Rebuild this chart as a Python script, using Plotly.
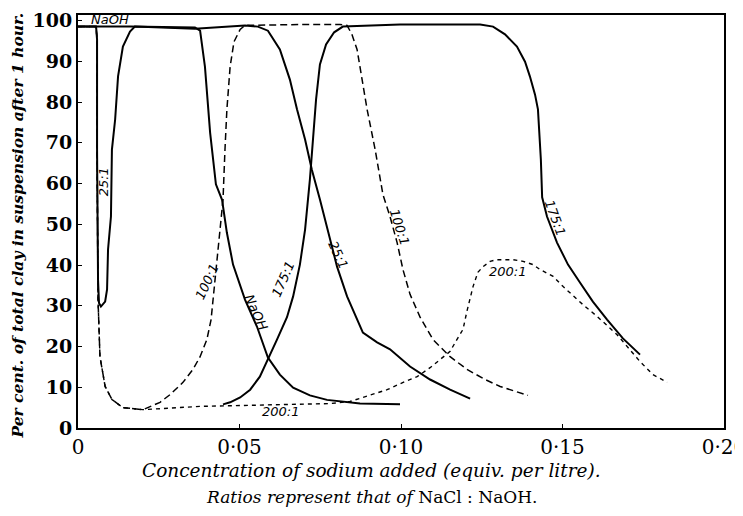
import plotly.graph_objects as go

# ---------------- data (concentration of sodium, equiv./litre ; % clay in suspension) ----------
naoh_x = [0, 0.0161, 0.0362, 0.0378, 0.0393, 0.0409, 0.0427, 0.0446, 0.0461, 0.0480, 0.0517,
          0.0554, 0.0588, 0.0625, 0.0666, 0.0718, 0.0771, 0.0873, 0.0997]
naoh_y = [98.5, 98.5, 98.3, 97.5, 88.7, 72.5, 59.8, 56.0, 47.9, 40.1, 31.5,
          24.9, 17.3, 13.1, 9.9, 8.0, 6.9, 6.0, 5.8]

r25_x = [0, 0.0056, 0.0059, 0.0059, 0.0062, 0.0065, 0.0071, 0.0084, 0.0090, 0.0093, 0.0102,
         0.0105, 0.0115, 0.0124, 0.0139, 0.0161, 0.0176, 0.0362, 0.0517, 0.0557, 0.0588,
         0.0625, 0.0656, 0.0678, 0.0703, 0.0724, 0.0749, 0.0780, 0.0802, 0.0833, 0.0882,
         0.0926, 0.0966, 0.1028, 0.1090, 0.1152, 0.1214]
r25_y = [98.5, 98.5, 95.3, 68.3, 36.4, 30.7, 29.8, 31.0, 34.0, 43.8, 51.9,
         68.3, 75.7, 86.3, 93.6, 97.3, 98.5, 98.0, 98.8, 98.5, 97.5,
         92.9, 85.5, 78.2, 70.8, 63.4, 56.1, 46.3, 39.6, 32.3, 23.4,
         21.0, 19.3, 15.1, 11.9, 9.4, 7.2]

r100_x = [0, 0.0056, 0.0059, 0.0059, 0.0062, 0.0068, 0.0084, 0.0105, 0.0139, 0.0201, 0.0254,
          0.0285, 0.0325, 0.0356, 0.0378, 0.0399, 0.0412, 0.0418, 0.0430, 0.0440, 0.0449,
          0.0455, 0.0461, 0.0471, 0.0483, 0.0502, 0.0517, 0.0687, 0.0811, 0.0833, 0.0848,
          0.0864, 0.0879, 0.0895, 0.0920, 0.0944, 0.0966, 0.0988, 0.1006, 0.1028, 0.1059,
          0.1099, 0.1152, 0.1204, 0.1260, 0.1307, 0.1393]
r100_y = [98.5, 98.5, 95.3, 68.3, 31.5, 17.5, 10.2, 7.0, 5.0, 4.5, 6.3,
          8.2, 11.2, 14.4, 17.5, 21.7, 26.6, 31.5, 39.6, 47.9, 56.1,
          68.3, 78.2, 88.7, 94.8, 97.8, 98.8, 99.0, 99.0, 98.8, 96.6,
          92.9, 85.5, 78.2, 68.3, 57.3, 51.9, 45.5, 38.9, 32.8, 27.2,
          21.7, 17.5, 14.4, 11.9, 10.2, 8.0]

r175_x = [0.0449, 0.0471, 0.0502, 0.0533, 0.0563, 0.0588, 0.0616, 0.0647, 0.0666, 0.0687,
          0.0703, 0.0718, 0.0728, 0.0737, 0.0749, 0.0768, 0.0793, 0.0820, 0.0997, 0.1245,
          0.1285, 0.1322, 0.1359, 0.1384, 0.1399, 0.1415, 0.1424, 0.1430, 0.1433, 0.1437,
          0.1452, 0.1483, 0.1517, 0.1554, 0.1594, 0.1638, 0.1687, 0.1740]
r175_y = [5.8, 6.3, 7.5, 9.4, 12.6, 16.8, 21.7, 27.2, 32.3, 40.1,
          48.7, 61.0, 70.8, 80.6, 89.2, 94.1, 97.1, 98.5, 99.0, 99.0,
          98.5, 96.6, 93.6, 89.9, 86.3, 81.8, 78.2, 70.8, 65.9, 56.6,
          51.9, 45.5, 40.1, 35.7, 31.0, 26.6, 22.0, 18.0]

r200_x = [0, 0.0056, 0.0059, 0.0059, 0.0062, 0.0068, 0.0084, 0.0105, 0.0139, 0.0201, 0.0378,
          0.0533, 0.0687, 0.0780, 0.0842, 0.0904, 0.0957, 0.1012, 0.1050, 0.1090, 0.1130,
          0.1152, 0.1173, 0.1192, 0.1204, 0.1223, 0.1238, 0.1254, 0.1276, 0.1297, 0.1347,
          0.1378, 0.1409, 0.1430, 0.1471, 0.1502, 0.1563, 0.1607, 0.1669, 0.1740, 0.1780,
          0.1824]
r200_y = [98.5, 98.5, 95.3, 68.3, 31.5, 17.5, 10.2, 7.0, 5.0, 4.5, 5.3,
          5.5, 5.8, 6.0, 6.5, 8.0, 9.4, 11.4, 12.6, 14.8, 17.5,
          18.8, 21.7, 24.2, 28.6, 34.7, 38.2, 39.6, 40.9, 41.3, 41.3,
          40.9, 40.1, 38.9, 37.2, 34.7, 30.3, 27.4, 22.9, 16.3, 13.1,
          11.2]

x_tickvals = [0, 0.05, 0.10, 0.15, 0.20]
x_ticktext = ["0", "0·05", "0·10", "0·15", "0·20"]
y_tickvals = [0, 10, 20, 30, 40, 50, 60, 70, 80, 90, 100]

# curve labels: text, x, y, angle
label_text = ["NaOH", "25:1", "100:1", "NaOH", "175:1", "25:1", "100:1", "175:1", "200:1", "200:1"]
label_x = [0.0099, 0.0080, 0.0399, 0.0551, 0.0635, 0.0805, 0.0994, 0.1477, 0.1331, 0.0628]
label_y = [100.2, 60.5, 36.0, 28.3, 36.4, 42.6, 49.4, 51.7, 38.4, 4.0]
label_angle = [0, -90, -65, 66, -66, 65, 72, 70, 0, 0]

# ---------------- figure ----------------
fig = go.Figure()
fig.add_trace(go.Scatter(x=r200_x, y=r200_y, mode="lines", name="200:1",
                         line=dict(color="black", width=1.4, dash="4px,4px")))
fig.add_trace(go.Scatter(x=r100_x, y=r100_y, mode="lines", name="100:1",
                         line=dict(color="black", width=1.5, dash="7px,4px")))
fig.add_trace(go.Scatter(x=r175_x, y=r175_y, mode="lines", name="175:1",
                         line=dict(color="black", width=2)))
fig.add_trace(go.Scatter(x=r25_x, y=r25_y, mode="lines", name="25:1",
                         line=dict(color="black", width=2)))
fig.add_trace(go.Scatter(x=naoh_x, y=naoh_y, mode="lines", name="NaOH",
                         line=dict(color="black", width=2)))

for t, x, y, a in zip(label_text, label_x, label_y, label_angle):
    fig.add_annotation(x=x, y=y, text=t, textangle=a, showarrow=False,
                       font=dict(family="DejaVu Sans", size=13, style="italic", color="black"))

fig.update_xaxes(range=[0, 0.2], tickvals=x_tickvals, ticktext=x_ticktext, automargin=False,
                 showline=True, mirror=True, linecolor="black", linewidth=2,
                 ticks="inside", ticklen=4, tickcolor="black", showgrid=False, zeroline=False,
                 ticklabelstandoff=0, ticklabeloverflow="allow",
                 tickfont=dict(family="DejaVu Serif", size=20, color="black"))
fig.update_yaxes(range=[0, 101.35], tickvals=y_tickvals, automargin=False,
                 showline=True, mirror=True, linecolor="black", linewidth=2,
                 ticks="inside", ticklen=4, tickcolor="black", showgrid=False, zeroline=False,
                 ticklabelstandoff=0,
                 tickfont=dict(family="DejaVu Serif", size=19, weight="bold", color="black"))

fig.add_annotation(xref="paper", yref="paper", x=-0.093, y=0.49, textangle=-90,
                   xanchor="center", yanchor="middle",
                   text="<b><i>Per cent. of total clay in suspension after 1 hour.</i></b>",
                   showarrow=False,
                   font=dict(family="DejaVu Serif", size=15.5, color="black"))
fig.add_annotation(xref="paper", yref="paper", x=0.455, y=-0.103,
                   xanchor="center", yanchor="middle",
                   text="<i>Concentration of sodium added (equiv. per litre).</i>", showarrow=False,
                   font=dict(family="DejaVu Serif", size=18.5, color="black"))
fig.add_annotation(xref="paper", yref="paper", x=0.455, y=-0.166,
                   xanchor="center", yanchor="middle",
                   text="<i>Ratios represent that of</i> NaCl : NaOH.", showarrow=False,
                   font=dict(family="DejaVu Serif", size=17, color="black"))

# the page adds an 8px body margin, so the figure is sized 8px smaller and margins shifted
fig.update_layout(width=735, height=508, margin=dict(l=70, r=19, t=7, b=88),
                  paper_bgcolor="white", plot_bgcolor="white", showlegend=False)

fig.write_html("out.html")
